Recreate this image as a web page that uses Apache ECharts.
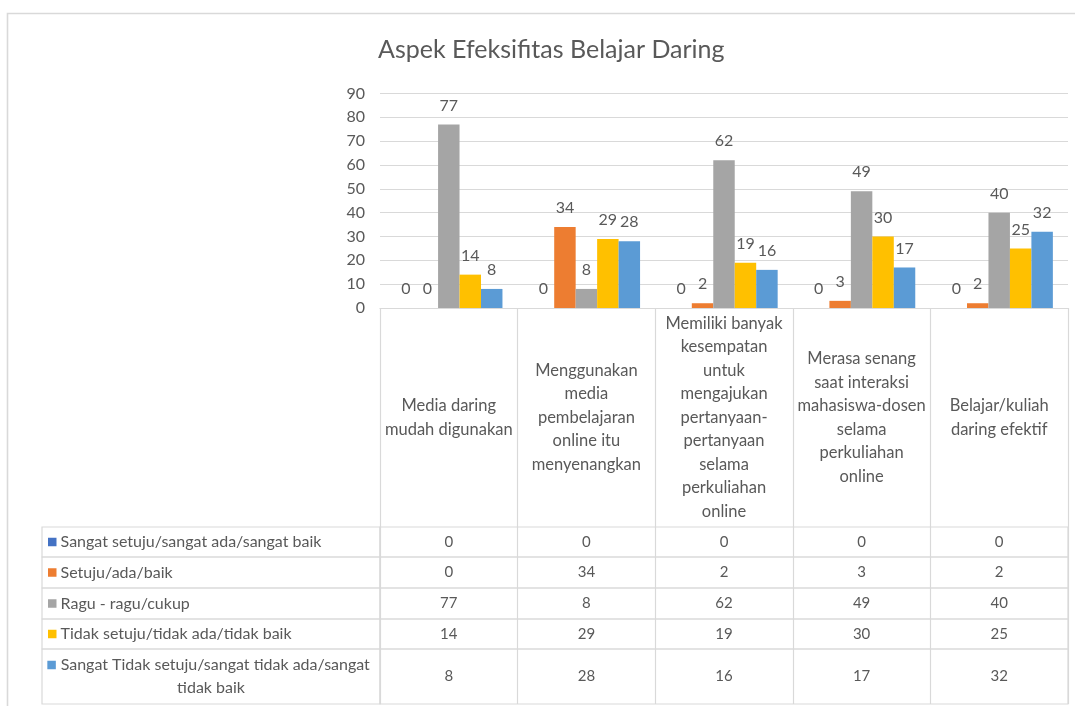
<!DOCTYPE html>
<html><head><meta charset="utf-8">
<script src="https://cdn.jsdelivr.net/npm/echarts@6/dist/echarts.min.js"></script>
<style>html,body{margin:0;padding:0;background:#fff}#c{width:1075px;height:706px}</style>
</head><body><div id="c"></div>
<script>
// ---- data ----
const chartTitle = 'Aspek Efeksifitas Belajar Daring';
const categories = [
  'Media daring\nmudah digunakan',
  'Menggunakan\nmedia\npembelajaran\nonline itu\nmenyenangkan',
  'Memiliki banyak\nkesempatan\nuntuk\nmengajukan\npertanyaan-\npertanyaan\nselama\nperkuliahan\nonline',
  'Merasa senang\nsaat interaksi\nmahasiswa-dosen\nselama\nperkuliahan\nonline',
  'Belajar/kuliah\ndaring efektif'
];
const seriesNames = [
  'Sangat setuju/sangat ada/sangat baik',
  'Setuju/ada/baik',
  'Ragu - ragu/cukup',
  'Tidak setuju/tidak ada/tidak baik',
  'Sangat Tidak setuju/sangat tidak ada/sangat tidak baik'
];
const sangatSetuju      = [0, 0, 0, 0, 0];
const setuju            = [0, 34, 2, 3, 2];
const ragu              = [77, 8, 62, 49, 40];
const tidakSetuju       = [14, 29, 19, 30, 25];
const sangatTidakSetuju = [8, 28, 16, 17, 32];
const yMin = 0, yMax = 90, yStep = 10;

// ---- style / layout ----
const seriesValues = [sangatSetuju, setuju, ragu, tidakSetuju, sangatTidakSetuju];
const colors = ['#4472C4', '#ED7D31', '#A5A5A5', '#FFC000', '#5B9BD5'];
const FONT = 'Lato, "Open Sans", sans-serif';
const TXT = '#595959';
const LINE = '#D9D9D9';
const plotLeft = 380, plotRight = 1068, plotTop = 93.5, plotBottom = 308;
const legendLeft = 42;
const rowEdges = [527, 557, 588, 619, 649, 704];

const grid = [{left: plotLeft, width: plotRight - plotLeft, top: plotTop, height: plotBottom - plotTop}];
const xAxis = [{
  type: 'category', gridIndex: 0, data: categories,
  axisLine: {lineStyle: {color: LINE, width: 1.2}},
  axisTick: {show: true, length: rowEdges[0] - plotBottom, lineStyle: {color: LINE, width: 1.2}},
  axisLabel: {interval: 0, margin: (rowEdges[0] - plotBottom) / 2, verticalAlign: 'middle', align: 'center',
    lineHeight: 23.5, fontSize: 16.5, color: TXT, fontFamily: FONT}
}];
const yAxis = [{
  type: 'value', gridIndex: 0, min: yMin, max: yMax, interval: yStep,
  axisLine: {show: false}, axisTick: {show: false},
  axisLabel: {fontSize: 16, color: TXT, fontFamily: FONT, margin: 15},
  splitLine: {lineStyle: {color: LINE, width: 1.2}}
}];

seriesNames.forEach((name, r) => {
  const top = rowEdges[r], h = rowEdges[r + 1] - rowEdges[r];
  // value cells grid
  const gv = grid.length;
  grid.push({left: plotLeft, width: plotRight - plotLeft, top: top, height: h, show: true, borderColor: LINE, borderWidth: 1.2, backgroundColor: 'transparent'});
  xAxis.push({
    type: 'category', gridIndex: gv, data: categories, position: 'top',
    axisLine: {show: false}, axisTick: {show: false},
    splitLine: {show: true, interval: 0, lineStyle: {color: LINE, width: 1.2}},
    axisLabel: {inside: true, interval: 0, margin: h / 2, verticalAlign: 'middle', align: 'center',
      fontSize: 15, color: TXT, fontFamily: FONT,
      formatter: (v, idx) => String(seriesValues[r][idx])}
  });
  yAxis.push({type: 'category', gridIndex: gv, data: [''], show: false});
  // legend key cell grid
  const gl = grid.length;
  const wrapped = r === seriesNames.length - 1;
  grid.push({left: legendLeft, width: plotLeft - legendLeft, top: top, height: h, show: true, borderColor: LINE, borderWidth: 1.2, backgroundColor: 'transparent'});
  xAxis.push({type: 'value', gridIndex: gl, show: false});
  yAxis.push({
    type: 'category', gridIndex: gl, data: [name],
    axisLine: {show: false}, axisTick: {show: false}, splitLine: {show: false},
    axisLabel: {inside: true, margin: wrapped ? 169 : 6, align: wrapped ? 'center' : 'left',
      width: wrapped ? 330 : 330, overflow: 'break', lineHeight: 23,
      fontSize: 16, color: TXT, fontFamily: FONT,
      formatter: v => '{m|} ' + v,
      rich: {m: {width: 8.5, height: 8.5, backgroundColor: colors[r]}}}
  });
});

const series = seriesNames.map((name, k) => ({
  name: name, type: 'bar', xAxisIndex: 0, yAxisIndex: 0,
  data: seriesValues[k], barGap: '0%', barCategoryGap: '22%',
  itemStyle: {color: colors[k]},
  label: {show: true, position: 'top', distance: 11, fontSize: 16, color: TXT, fontFamily: FONT},
  animation: false
}));

const chart = echarts.init(document.getElementById('c'), null, {renderer: 'canvas'});
chart.setOption({
  backgroundColor: '#fff',
  animation: false,
  title: {text: chartTitle, left: 378, top: 37, padding: 0,
    textStyle: {fontSize: 25, fontWeight: 'normal', color: TXT, fontFamily: FONT}},
  graphic: [{type: 'rect', silent: true, z: -10,
    shape: {x: 7.5, y: 13.5, width: 1200, height: 900},
    style: {fill: 'none', stroke: LINE, lineWidth: 1.6}}],
  grid: grid, xAxis: xAxis, yAxis: yAxis, series: series
});
</script></body></html>
